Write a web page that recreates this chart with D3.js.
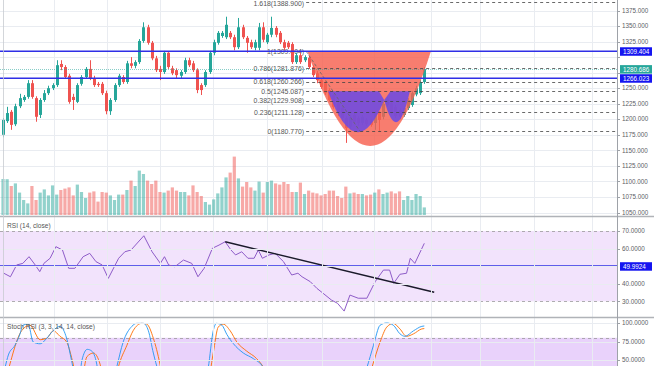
<!DOCTYPE html>
<html><head><meta charset="utf-8">
<script src="https://cdn.jsdelivr.net/npm/d3@7"></script>
<style>body{margin:0;background:#fff;overflow:hidden}svg{display:block;font-family:"Liberation Sans",Arial,sans-serif}</style>
</head><body><svg id="c" width="654" height="366"></svg>
<script>
// ---------- data ----------
const open=[1175,1197,1212,1192,1221,1231,1236,1258,1234,1207,1231,1242,1250,1255,1289,1284,1270,1236,1228,1257,1268,1281,1266,1257,1257,1242,1213,1231,1255,1268,1260,1290,1286,1292,1326,1348,1323,1298,1281,1276,1307,1282,1279,1270,1276,1295,1290,1279,1255,1255,1276,1307,1323,1334,1332,1339,1332,1316,1348,1331,1324,1315,1315,1348,1324,1336,1347,1339,1324,1323,1321,1292,1303,1295,1299,1284,1274,1263,1258,1247,1239,1226,1218,1202,1188,1207,1202,1194,1199,1197,1194,1210,1204,1223,1226,1220,1215,1207,1218,1223,1240,1242,1260];
const high=[1202,1220,1215,1225,1241,1239,1263,1263,1237,1234,1247,1254,1258,1295,1295,1287,1273,1241,1258,1271,1284,1295,1270,1260,1260,1246,1234,1258,1273,1271,1294,1300,1295,1329,1356,1352,1326,1302,1286,1310,1308,1286,1282,1279,1299,1299,1294,1282,1258,1279,1310,1328,1342,1342,1365,1342,1336,1363,1352,1334,1328,1328,1355,1356,1339,1365,1350,1342,1328,1326,1324,1307,1307,1303,1302,1287,1278,1266,1262,1250,1242,1229,1221,1205,1207,1210,1205,1207,1202,1200,1213,1213,1228,1236,1229,1223,1218,1221,1234,1245,1254,1263,1284];
const low=[1171,1194,1183,1189,1218,1228,1233,1233,1196,1202,1228,1239,1247,1252,1279,1265,1225,1215,1226,1254,1265,1263,1252,1252,1239,1208,1207,1228,1252,1257,1257,1282,1282,1289,1323,1320,1295,1276,1263,1273,1281,1271,1266,1266,1273,1284,1276,1242,1239,1252,1273,1303,1320,1331,1329,1329,1311,1313,1329,1307,1313,1311,1311,1324,1321,1332,1332,1321,1311,1313,1289,1289,1289,1292,1281,1268,1258,1249,1239,1228,1217,1205,1197,1162,1184,1192,1189,1191,1189,1188,1183,1180,1200,1220,1208,1202,1200,1204,1215,1220,1237,1239,1257];
const close=[1199,1210,1191,1221,1234,1236,1258,1236,1204,1231,1242,1250,1255,1287,1284,1268,1228,1231,1255,1268,1281,1266,1255,1255,1242,1213,1231,1255,1270,1260,1290,1286,1292,1326,1348,1323,1298,1279,1276,1307,1284,1274,1271,1276,1295,1287,1279,1247,1247,1276,1307,1324,1339,1339,1352,1332,1316,1348,1332,1323,1316,1324,1348,1328,1336,1347,1336,1324,1315,1316,1292,1303,1292,1300,1284,1271,1263,1252,1242,1231,1220,1210,1202,1186,1204,1196,1194,1204,1192,1191,1210,1199,1225,1233,1212,1205,1204,1218,1231,1242,1250,1260,1280.686];
const volume=[180,179,145,158,112,75,58,145,75,112,128,98,148,102,125,132,138,98,152,115,85,112,118,67,115,112,98,75,102,102,125,172,145,222,205,172,155,172,115,112,122,138,122,115,115,98,148,115,95,65,52,78,108,138,188,212,292,183,142,165,138,122,167,112,165,172,158,152,165,155,115,115,162,105,122,112,108,98,105,122,122,95,85,142,108,112,105,105,98,102,112,128,105,112,118,108,118,75,95,75,105,95,38];
const priceTicks=[1050,1075,1100,1125,1150,1175,1200,1225,1250,1275,1300,1325,1350,1375];
const fibRatios=["1.618","1","0.786","0.618","0.5","0.382","0.236","0"];
const fibPrices=[1388.900,1309.404,1281.876,1260.266,1245.087,1229.908,1211.128,1180.770];
const fibStartBar=73.4, fibLowBar=86.4;
const hLevels=[1309.404,1266.023];
const lastPrice=1280.686;
const gridBars=[12.42,25.25,38.09,50.92,63.85,77.24,89.83,103.63,115.5,128.57,142.61];
// arcs: [start, control, end] in (bar, price)
const cupArc=[[73.7,1309.404],[89.15,1004.6],[103.6,1309.404]];
const leftArc=[[78.7,1245.087],[91.0,1245.087],[92.3,1231],[85.5,1120.96]];
const rightArc=[[92.3,1231],[93.8,1245.087],[98.5,1245.087],[95.4,1153.16]];
// RSI
const rsiBar=[0.2,1.8,3.3,4.8,6.3,7.8,8.9,9.9,11.4,12.8,14.4,15.9,17.4,19.4,21.0,22.5,24.0,25.5,28.0,29.5,31.0,34.1,36.1,38.1,39.1,40.1,41.6,43.7,45.7,47.2,48.7,50.7,52.3,53.8,55.2,56.3,57.8,59.3,60.8,61.8,62.8,64.4,65.9,67.9,69.9,71.4,72.4,74.4,76.0,77.5,79.5,81.0,82.6,84.0,86.0,88.1,90.1,92.1,93.6,94.6,96.1,97.7,98.6,99.7,102];
const rsiVal=[46.0,44.0,50.7,51.6,55.4,50.7,46.9,51.6,54.5,61.1,59.2,48.8,48.8,55.4,57.3,52.6,50.7,43.1,54.5,58.2,59.2,67.3,58.2,51.6,55.4,50.7,49.7,53.5,51.6,44.0,48.8,60.2,62.0,63.9,59.2,56.4,58.2,54.5,54.5,59.2,54.5,56.4,57.3,52.6,45.0,46.0,44.0,41.2,37.4,34.6,30.8,28.9,24.5,33.6,31.8,31.8,41.2,47.8,47.8,40.3,45.4,46.0,54.5,51.6,63.0];
const rsiTicks=[70,60,40,30];
const rsiLevel=49.9924;
const rsiTrendBar=[53.8,104.4], rsiTrendVal=[63.9,35.2];
// Stoch RSI
const kBar=[0.5,1.3,2.9,4.1,4.8,6.1,7.3,9.0,10.6,12.1,13.8,15.4,16.6,17.7,18.4,19.1,20.4,21.5,22.7,23.5,25.9,27.5,29.1,31.2,32.4,34.0,35.2,36.4,37.6,39.2,47.7,49.7,50.9,51.7,53.0,54.2,55.8,58.2,60.6,63.0,64.6,67,85.2,88.1,89.7,91.3,92.9,94.5,96.1,97.3,99.4,101.4,102];
const kVal=[39.8,56.8,69.9,85.0,97.0,98.5,74.4,71.9,79.4,89.5,95.5,79.4,49.3,21.8,21.8,49.3,64.4,62.0,44.4,14,6.8,39.8,74.4,95.5,99.5,99.5,89.5,59.4,34.3,6.8,0,39.8,89.5,99.5,97.0,84.5,71.9,59.4,51.9,39.8,14.3,0,0,39.8,69.9,97.0,100,97.0,85.4,82.0,89.5,95.5,96];
const dBar=[0.5,1.3,4.5,6.5,9.0,10.6,12.2,13.8,15.4,17.0,18.2,19.1,20.3,21.9,23.5,24.7,26.4,27.9,30.0,31.5,33.6,34.8,36.4,38.0,39.2,48.9,50.9,52.1,53.3,55.0,56.6,59.0,61.4,63.4,65.9,86.9,89.3,91.3,92.9,94.5,96.1,97.7,99.4,101.4,102];
const dVal=[20,36.8,89.5,97.0,77.4,79.4,89.5,82.0,74.4,44.4,14.3,21.8,54.4,59.4,44.4,6.8,0,39.8,69.9,89.5,99.5,98.5,79.4,44.4,6.8,0,59.4,94.4,98.5,89.5,74.4,62.0,51.9,36.8,0,0,39.8,74.4,94.4,99.5,92.0,82.0,85.4,92.0,92.5];
const stochTicks=[100,75,50];

// ---------- scales ----------
const PR=617;
const svg=d3.select('#c');
const x=d3.scaleLinear().domain([0,102]).range([3,424.3]);
const y=d3.scaleLinear().domain([1050,1375]).range([212.5,10.5]);
const yv=d3.scaleLinear().domain([0,1000]).range([215,15]);
const yr=d3.scaleLinear().domain([30,70]).range([301.4,231]);
const ys=d3.scaleLinear().domain([50,100]).range([360,323]);
const TEAL="#26a69a", RED="#ef5350", BLUE="#2f2fe6";
const fmt3=d3.format(".3f"), fmt4=d3.format(".4f");

const defs=svg.append('defs');
function clip(id,x0,y0,w,h){defs.append('clipPath').attr('id',id).append('rect').attr('x',x0).attr('y',y0).attr('width',w).attr('height',h);}
clip('cm',0,0,PR,215.5);clip('cr',0,217,PR,99);clip('cs',0,318,PR,48);

svg.append('rect').attr('width',654).attr('height',366).attr('fill','#fff');

// pane bands
const gR=svg.append('g').attr('clip-path','url(#cr)');
const gS=svg.append('g').attr('clip-path','url(#cs)');
gR.append('rect').attr('x',0).attr('width',PR).attr('y',yr(70)).attr('height',yr(30)-yr(70)).attr('fill','#f2e3fc');
gS.append('rect').attr('x',0).attr('width',PR).attr('y',ys(80)).attr('height',ys(20)-ys(80)).attr('fill','#e9d2fb');

// grid
const gGrid=svg.append('g').attr('stroke','#e9ecf1').attr('stroke-width',1);
gGrid.selectAll('line.v').data(gridBars).join('line').attr('x1',d=>Math.round(x(d))+0.5).attr('x2',d=>Math.round(x(d))+0.5).attr('y1',0).attr('y2',366);
gGrid.selectAll('line.p').data(priceTicks).join('line').attr('x1',0).attr('x2',PR).attr('y1',d=>Math.round(y(d))+0.5).attr('y2',d=>Math.round(y(d))+0.5);
gGrid.selectAll('line.r').data([60,50,40]).join('line').attr('x1',0).attr('x2',PR).attr('y1',d=>Math.round(yr(d))+0.5).attr('y2',d=>Math.round(yr(d))+0.5);
gGrid.selectAll('line.s').data([100,75,50]).join('line').attr('x1',0).attr('x2',PR).attr('y1',d=>Math.round(ys(d))+0.5).attr('y2',d=>Math.round(ys(d))+0.5);

// ---------- main pane ----------
const gM=svg.append('g').attr('clip-path','url(#cm)');
const xs=x(fibStartBar);
// fib labels
gM.append('g').selectAll('text').data(fibPrices).join('text')
  .attr('x',xs-2).attr('y',d=>Math.max(y(d),4)).attr('dy','0.35em').attr('text-anchor','end')
  .attr('font-size',6.9).attr('fill','#555')
  .text((d,i)=>fibRatios[i]+"("+fmt3(d)+")");
// volume
const idx=d3.range(open.length);
gM.append('g').selectAll('rect').data(idx).join('rect')
  .attr('x',i=>x(i)-1.6).attr('width',3.2)
  .attr('y',i=>yv(volume[i])).attr('height',i=>yv(0)-yv(volume[i]))
  .attr('fill',i=>close[i]>=open[i]?TEAL:RED).attr('fill-opacity',0.5);
// candles
const gC=gM.append('g');
gC.selectAll('line').data(idx).join('line')
  .attr('x1',i=>Math.round(x(i))+0.5).attr('x2',i=>Math.round(x(i))+0.5)
  .attr('y1',i=>y(high[i])).attr('y2',i=>y(low[i]))
  .attr('stroke',i=>close[i]>=open[i]?TEAL:RED).attr('stroke-width',1);
gC.selectAll('rect').data(idx).join('rect')
  .attr('x',i=>Math.round(x(i))-1).attr('width',3)
  .attr('y',i=>y(Math.max(open[i],close[i])))
  .attr('height',i=>Math.max(1,Math.abs(y(open[i])-y(close[i]))))
  .attr('fill',i=>close[i]>=open[i]?TEAL:RED);
// arcs
function P(p){return [x(p[0]),y(p[1])];}
{
  const a=P(cupArc[0]),c=P(cupArc[1]),b=P(cupArc[2]);
  gM.append('path').attr('d',`M${a}Q${c} ${b}Z`).attr('fill','#f6604f').attr('fill-opacity',0.82);
}
function purple(arr){
  const p0=P(arr[0]),p1=P(arr[1]),p2=P(arr[2]),c=P(arr[3]);
  return `M${p0}L${p1}L${p2}Q${c} ${p0}Z`;
}
gM.append('path').attr('d',purple(leftArc)).attr('fill','#6c4ae2').attr('fill-opacity',0.88);
gM.append('path').attr('d',purple(rightArc)).attr('fill','#6c4ae2').attr('fill-opacity',0.88);
// fib lines
gM.append('g').selectAll('line').data(fibPrices).join('line')
  .attr('x1',xs).attr('x2',PR).attr('y1',d=>Math.round(y(d))+0.5).attr('y2',d=>Math.round(y(d))+0.5)
  .attr('stroke','#444').attr('stroke-width',0.8).attr('stroke-dasharray','3,3');
// fib diagonal
gM.append('line').attr('x1',xs).attr('y1',y(fibPrices[1])).attr('x2',x(fibLowBar)).attr('y2',y(fibPrices[7]))
  .attr('stroke','#666').attr('stroke-width',0.8).attr('stroke-dasharray','3,2');
// last price line
gM.append('line').attr('x1',0).attr('x2',PR).attr('y1',Math.round(y(lastPrice))+0.5).attr('y2',Math.round(y(lastPrice))+0.5)
  .attr('stroke',TEAL).attr('stroke-opacity',0.55).attr('stroke-dasharray','1,1');
// blue horizontal levels
gM.append('g').selectAll('line').data(hLevels).join('line')
  .attr('x1',0).attr('x2',PR).attr('y1',d=>y(d)).attr('y2',d=>y(d))
  .attr('stroke',BLUE).attr('stroke-width',1.7);

// ---------- RSI pane ----------
gR.selectAll('line.lv').data([70,30]).join('line').attr('x1',0).attr('x2',PR)
  .attr('y1',d=>Math.round(yr(d))+0.5).attr('y2',d=>Math.round(yr(d))+0.5)
  .attr('stroke','#9a9a9a').attr('stroke-width',0.8).attr('stroke-dasharray','3,3');
gR.append('line').attr('x1',0).attr('x2',PR).attr('y1',yr(rsiLevel)).attr('y2',yr(rsiLevel)).attr('stroke',BLUE).attr('stroke-width',1.7);
gR.append('path').datum(d3.range(rsiBar.length))
  .attr('d',d3.line().x(i=>x(rsiBar[i])).y(i=>yr(rsiVal[i])))
  .attr('fill','none').attr('stroke','#8e5cc8').attr('stroke-width',1);
gR.append('line').attr('x1',x(rsiTrendBar[0])).attr('y1',yr(rsiTrendVal[0])).attr('x2',x(rsiTrendBar[1])).attr('y2',yr(rsiTrendVal[1]))
  .attr('stroke','#1a1a2a').attr('stroke-width',1.4);

// ---------- Stoch pane ----------
gS.append('line').attr('x1',0).attr('x2',PR).attr('y1',Math.round(ys(80))+0.5).attr('y2',Math.round(ys(80))+0.5)
  .attr('stroke','#9a9a9a').attr('stroke-width',0.8).attr('stroke-dasharray','3,3');
gS.append('path').datum(d3.range(dBar.length))
  .attr('d',d3.line().x(i=>x(dBar[i])).y(i=>ys(dVal[i])).curve(d3.curveMonotoneX))
  .attr('fill','none').attr('stroke','#ff6d00').attr('stroke-width',0.9);
gS.append('path').datum(d3.range(kBar.length))
  .attr('d',d3.line().x(i=>x(kBar[i])).y(i=>ys(kVal[i])).curve(d3.curveMonotoneX))
  .attr('fill','none').attr('stroke','#2196f3').attr('stroke-width',0.9);

// pane titles
svg.append('text').attr('x',7).attr('y',228).attr('font-size',6.6).attr('fill','#555').text('RSI (14, close)');
svg.append('text').attr('x',7).attr('y',329).attr('font-size',6.6).attr('fill','#555').text('Stoch RSI (3, 3, 14, 14, close)');

// separators and axis border
svg.append('line').attr('x1',0).attr('x2',654).attr('y1',216.5).attr('y2',216.5).attr('stroke','#b0b3b8').attr('stroke-width',1.5);
svg.append('line').attr('x1',0).attr('x2',654).attr('y1',317.5).attr('y2',317.5).attr('stroke','#b0b3b8').attr('stroke-width',1.5);
svg.append('line').attr('x1',PR+0.5).attr('x2',PR+0.5).attr('y1',0).attr('y2',366).attr('stroke','#9ea2a8').attr('stroke-width',1);
svg.append('line').attr('x1',3.5).attr('x2',3.5).attr('y1',0).attr('y2',366).attr('stroke','#c8cbd0').attr('stroke-width',0.8);

// axis labels (labels hidden behind a price box are skipped, as in the reference)
const boxPrices=[hLevels[0],lastPrice,hLevels[1]];
const gA=svg.append('g').attr('font-size',6.3).attr('fill','#5d6066');
function axisLabels(ticks,sc,f,hide){
  ticks.forEach(t=>{
    gA.append('line').attr('x1',PR).attr('x2',PR+3).attr('y1',Math.round(sc(t))+0.5).attr('y2',Math.round(sc(t))+0.5).attr('stroke','#9ea2a8');
    if(hide.some(b=>Math.abs(sc(b)-sc(t))<6)) return;
    gA.append('text').attr('x',622).attr('y',sc(t)).attr('dy','0.35em').text(f(t));
  });
}
axisLabels(priceTicks,y,fmt3,boxPrices);
axisLabels(rsiTicks,yr,fmt4,[rsiLevel]);
axisLabels(stochTicks,ys,fmt4,[]);
function box(v,sc,color,f){
  svg.append('rect').attr('x',620).attr('y',sc(v)-4).attr('width',32).attr('height',8.5).attr('fill',color);
  svg.append('text').attr('x',623).attr('y',sc(v)+0.3).attr('dy','0.35em').attr('font-size',6.3).attr('fill','#fff').text(f(v));
}
box(hLevels[0],y,'#1515f0',fmt3);
box(lastPrice,y,TEAL,fmt3);
box(hLevels[1],y,'#1515f0',fmt3);
box(rsiLevel,yr,'#1515f0',fmt4);
</script></body></html>
